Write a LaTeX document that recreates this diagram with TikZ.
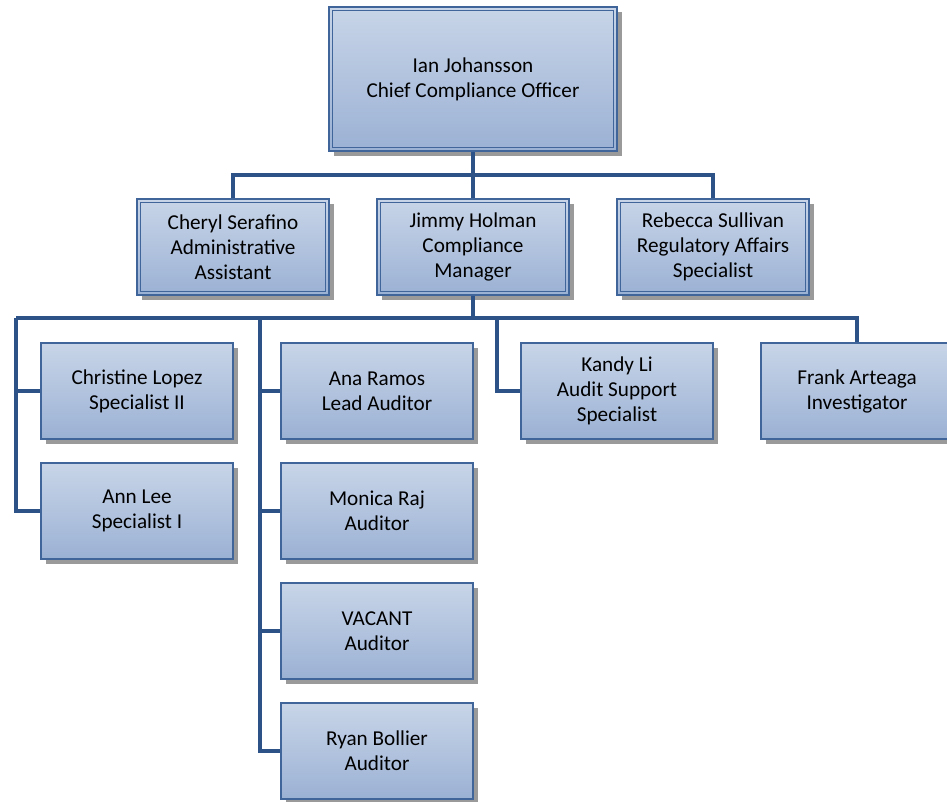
\documentclass[tikz,border=0pt]{standalone}
\usepackage{fontspec}
\setmainfont{Carlito}
\usetikzlibrary{shadows}
\definecolor{boxtop}{HTML}{C8D5E8}
\definecolor{boxbot}{HTML}{9BB1D4}
\definecolor{boxline}{HTML}{40659A}
\definecolor{conn}{HTML}{2C5288}
\definecolor{shad}{HTML}{9A9A9A}
\tikzset{
  person/.style={rectangle, draw=boxline, line width=1.2pt, top color=boxtop, bottom color=boxbot,
    minimum width=192pt, minimum height=96pt, inner sep=0pt, align=center,
    font=\fontsize{21.2}{25}\selectfont, text=black,
    drop shadow={shadow xshift=5pt, shadow yshift=-5pt, fill=shad, opacity=1}},
  bigperson/.style={person, minimum width=288pt, minimum height=144pt},
  innerframe/.style={draw=boxline, line width=1.2pt},
  link/.style={draw=conn, line width=3.2pt, line join=miter}
}
\newcommand{\innerbox}[1]{\draw[innerframe] ([shift={(4,4)}]#1.north west) rectangle ([shift={(-4,-4)}]#1.south east);}
\begin{document}
\begin{tikzpicture}[x=1pt,y=-1pt]
\clip (0,0) rectangle (947,801);
\fill[white] (0,0) rectangle (947,801);
% nodes
\node[bigperson] (ian) at (473,79) {Ian Johansson\\Chief Compliance Officer};
\innerbox{ian}
\node[person] (cheryl) at (233,247) {Cheryl Serafino\\Administrative\\Assistant};
\innerbox{cheryl}
\node[person] (jimmy) at (473,247) {Jimmy Holman\\Compliance\\Manager};
\innerbox{jimmy}
\node[person] (rebecca) at (713,247) {Rebecca Sullivan\\Regulatory Affairs\\Specialist};
\innerbox{rebecca}
\node[person] (christine) at (137,391) {Christine Lopez\\Specialist II};
\node[person] (ann) at (137,511) {Ann Lee\\Specialist I};
\node[person] (ana) at (377,391) {Ana Ramos\\Lead Auditor};
\node[person] (monica) at (377,511) {Monica Raj\\Auditor};
\node[person] (vacant) at (377,631) {VACANT\\Auditor};
\node[person] (ryan) at (377,751) {Ryan Bollier\\Auditor};
\node[person] (kandy) at (617,391) {Kandy Li\\Audit Support\\Specialist};
\node[person] (frank) at (857,391) {Frank Arteaga\\Investigator};
% buses
\coordinate (busA) at (473,175);
\coordinate (busB) at (473,318);
\coordinate (colL) at (16,318);
\coordinate (colM) at (260,318);
\coordinate (colK) at (497,318);
% connectors
\draw[link] (ian.south) -- (jimmy.north);
\draw[link] (cheryl.north) -- (cheryl.north |- busA) -- (rebecca.north |- busA) -- (rebecca.north);
\draw[link] (jimmy.south) -- (busB);
\draw[link] (colL) -- (frank.north |- colL) -- (frank.north);
\draw[link] (christine.west) -| (colL);
\draw[link] (ann.west) -| (colL);
\draw[link] (ana.west) -| (colM);
\draw[link] (monica.west) -| (colM);
\draw[link] (vacant.west) -| (colM);
\draw[link] (ryan.west) -| (colM);
\draw[link] (kandy.west) -| (colK);
\end{tikzpicture}
\end{document}
